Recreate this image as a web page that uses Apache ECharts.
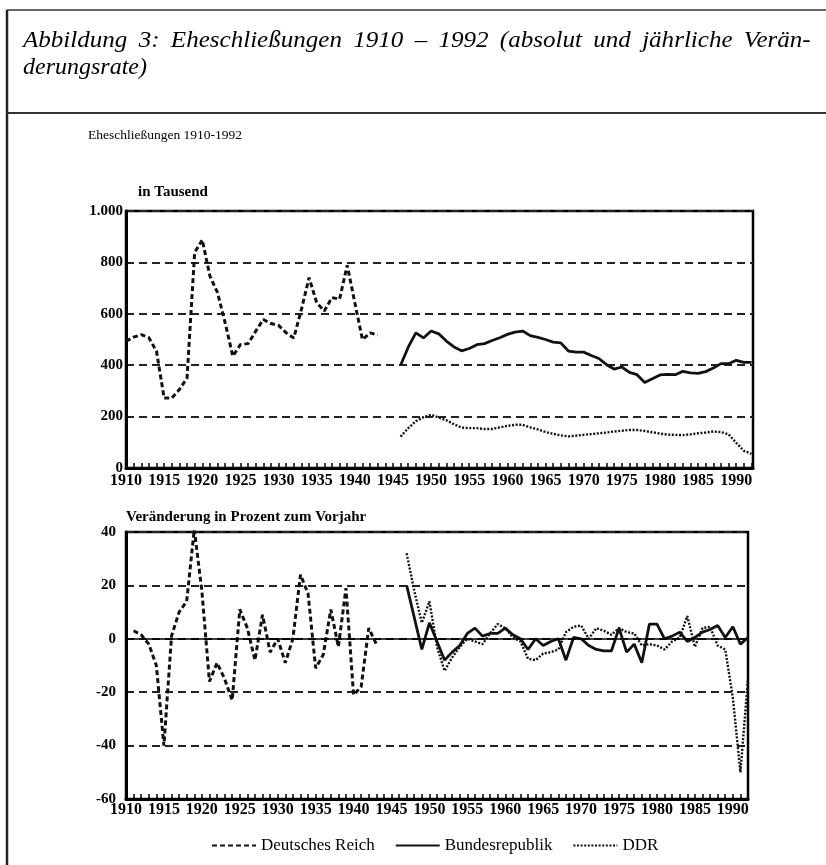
<!DOCTYPE html>
<html><head><meta charset="utf-8">
<script src="https://cdn.jsdelivr.net/npm/echarts@6/dist/echarts.min.js"></script>
<style>html,body{margin:0;padding:0;background:#fff}#c{width:826px;height:865px}</style>
</head><body><div id="c"></div>
<script>
// ---- data ----
const seriesNames = ['Deutsches Reich', 'Bundesrepublik', 'DDR'];
const xTickLabels = [1910, 1915, 1920, 1925, 1930, 1935, 1940, 1945, 1950, 1955, 1960, 1965, 1970, 1975, 1980, 1985, 1990];

// Eheschließungen in Tausend
const yearsReich = [1910,1911,1912,1913,1914,1915,1916,1917,1918,1919,1920,1921,1922,1923,1924,1925,1926,1927,1928,1929,1930,1931,1932,1933,1934,1935,1936,1937,1938,1939,1940,1941,1942,1943];
const marriagesReich = [493,509,519,507,454,272,272,305,350,838,888,747,682,565,435,480,484,532,578,562,555,526,506,617,741,643,611,663,657,789,643,500,526,517];

const yearsPost = [1946,1947,1948,1949,1950,1951,1952,1953,1954,1955,1956,1957,1958,1959,1960,1961,1962,1963,1964,1965,1966,1967,1968,1969,1970,1971,1972,1973,1974,1975,1976,1977,1978,1979,1980,1981,1982,1983,1984,1985,1986,1987,1988,1989,1990,1991,1992];
const marriagesBRD = [400,470,526,506,533,522,494,471,456,465,480,484,496,507,520,529,533,515,508,500,490,487,455,451,451,438,426,402,385,393,372,363,333,347,362,364,363,376,370,368,375,389,406,406,419,411,411];
const marriagesDDR = [122,155,182,198,207,196,186,170,157,155,155,152,152,158,164,168,168,158,150,140,133,127,123,126,129,132,135,138,142,145,148,148,144,139,134,130,129,128,131,135,138,142,140,131,98,67,55];

// Veränderung in Prozent zum Vorjahr
const yearsReichChg = [1911,1912,1913,1914,1915,1916,1917,1918,1919,1920,1921,1922,1923,1924,1925,1926,1927,1928,1929,1930,1931,1932,1933,1934,1935,1936,1937,1938,1939,1940,1941,1942,1943];
const changeReich = [3,1.5,-2,-10,-40,1,10,14,41,18,-16,-9,-15,-23,11,4,-8,9,-5,0,-9,0,24,17,-11,-6,11,-3,19,-21,-18,4,-2];

const yearsPostChg = [1947,1948,1949,1950,1951,1952,1953,1954,1955,1956,1957,1958,1959,1960,1961,1962,1963,1964,1965,1966,1967,1968,1969,1970,1971,1972,1973,1974,1975,1976,1977,1978,1979,1980,1981,1982,1983,1984,1985,1986,1987,1988,1989,1990,1991,1992];
const changeBRD = [20,8,-4,6,-1,-8,-5,-2.5,2,4,1,2,2,4,1.5,0,-4,0,-2.5,-1,0,-8,0.5,0,-2.5,-4,-4.5,-4.5,4,-5,-2,-9,5.5,5.5,0,1,2.5,-1,0.5,2.5,3.5,5,0.5,4.5,-2,0.5];
const changeDDR = [32,18,6,14,-3,-12,-7,-3,0,-1,-2,2,5.5,4,0.5,-1,-7.5,-8,-5.5,-5,-4,2.5,4.5,5,0,4,3,1.5,4,2.5,2,-2.5,-2,-2.5,-4,-1,0.5,8.5,-3,4,4.5,-2.5,-4,-22,-50,-15];

// ---- helpers ----
const pairs = (xs, ys) => xs.map((x, i) => [x, ys[i]]);
const SERIF = '"Liberation Serif", "Times New Roman", serif';
const INK = '#111';
const GAP = ' \u2009';

const styleReich = { color: INK, width: 3, type: [5, 3] };
const styleBRD = { color: INK, width: 2.8, type: 'solid' };
const styleDDR = { color: INK, width: 2.4, type: [2, 1.6] };

function xAxisCfg(grid, max, margin) {
  return {
    gridIndex: grid, type: 'value', min: 1910, max: max, interval: 5,
    axisLine: { show: true, onZero: false, lineStyle: { color: '#000', width: 3 } },
    axisTick: { show: true, inside: true, length: 5, lineStyle: { color: '#000', width: 1.5 } },
    minorTick: { show: true, splitNumber: 5, length: 5, lineStyle: { color: '#000', width: 1.5 } },
    axisLabel: {
      margin: margin, color: '#000', fontFamily: SERIF, fontSize: 16, fontWeight: 'bold',
      showMaxLabel: false,
      formatter: v => (xTickLabels.indexOf(Math.round(v * 1000) / 1000) >= 0 ? String(v) : '')
    },
    splitLine: { show: false }
  };
}
function yAxisCfg(grid, min, max, interval, margin, fmt) {
  return {
    gridIndex: grid, type: 'value', min: min, max: max, interval: interval,
    axisLine: { show: true, lineStyle: { color: '#000', width: 3 } },
    axisTick: { show: false },
    axisLabel: { margin: margin, color: '#000', fontFamily: SERIF, fontSize: 15, fontWeight: 'bold', formatter: fmt },
    splitLine: { show: true, lineStyle: { color: '#222', width: 1.8, type: [8, 5] } }
  };
}
function line(name, xi, data, ls, extra) {
  return Object.assign({
    name: name, type: 'line', xAxisIndex: xi, yAxisIndex: xi, data: data,
    symbol: 'none', showSymbol: false, lineStyle: ls, itemStyle: { color: INK },
    smooth: false, animation: false, z: 3
  }, extra || {});
}

const chart = echarts.init(document.getElementById('c'), null, { renderer: 'canvas' });
chart.setOption({
  backgroundColor: '#fff',
  animation: false,
  grid: [
    { left: 126, right: 73, top: 211, height: 257, show: true, borderColor: '#000', borderWidth: 2.5 },
    { left: 126, right: 78, top: 532, height: 267, show: true, borderColor: '#000', borderWidth: 2.5 }
  ],
  xAxis: [xAxisCfg(0, 1992.2, 5), xAxisCfg(1, 1992, 3)],
  yAxis: [
    yAxisCfg(0, 0, 1000, 200, 3, v => (v === 1000 ? '1.000' : String(v))),
    yAxisCfg(1, -60, 40, 20, 10, v => String(v))
  ],
  legend: {
    left: 206, top: 832, itemWidth: 44, itemHeight: 4, itemGap: 20,
    itemStyle: { opacity: 0 },
    textStyle: { fontFamily: SERIF, fontSize: 17, color: '#000' },
    data: seriesNames
  },
  series: [
    line(seriesNames[0], 0, pairs(yearsReich, marriagesReich), styleReich),
    line(seriesNames[1], 0, pairs(yearsPost, marriagesBRD), styleBRD),
    line(seriesNames[2], 0, pairs(yearsPost, marriagesDDR), styleDDR),
    line(seriesNames[0], 1, pairs(yearsReichChg, changeReich), styleReich, {
      markLine: {
        silent: true, symbol: ['none', 'none'], label: { show: false }, animation: false,
        lineStyle: { color: '#000', width: 1.6, type: 'solid' },
        data: [{ yAxis: 0 }]
      }
    }),
    line(seriesNames[1], 1, pairs(yearsPostChg, changeBRD), styleBRD),
    line(seriesNames[2], 1, pairs(yearsPostChg, changeDDR), styleDDR)
  ],
  graphic: [
    { type: 'line', shape: { x1: 7, y1: 10, x2: 826, y2: 10 }, style: { stroke: '#333', lineWidth: 1.5 } },
    { type: 'line', shape: { x1: 7, y1: 10, x2: 7, y2: 865 }, style: { stroke: '#222', lineWidth: 2.5 } },
    { type: 'line', shape: { x1: 7, y1: 113, x2: 826, y2: 113 }, style: { stroke: '#333', lineWidth: 2 } },
    { type: 'text', x: 23, y: 41, scaleX: 1.044,
      style: { text: ['Abbildung', '3:', 'Eheschließungen', '1910', '–', '1992', '(absolut', 'und', 'jährliche', 'Verän-'].join(GAP),
               font: 'italic 24px ' + SERIF, fill: '#000', align: 'left', verticalAlign: 'middle' } },
    { type: 'text', x: 23, y: 68, scaleX: 1.0,
      style: { text: 'derungsrate)', font: 'italic 24px ' + SERIF, fill: '#000', align: 'left', verticalAlign: 'middle' } },
    { type: 'text', x: 88, y: 135,
      style: { text: 'Eheschließungen 1910-1992', font: '13.5px ' + SERIF, fill: '#000', align: 'left', verticalAlign: 'middle' } },
    { type: 'text', x: 138, y: 192,
      style: { text: 'in Tausend', font: 'bold 15px ' + SERIF, fill: '#000', align: 'left', verticalAlign: 'middle' } },
    { type: 'text', x: 126, y: 517,
      style: { text: 'Veränderung in Prozent zum Vorjahr', font: 'bold 15px ' + SERIF, fill: '#000', align: 'left', verticalAlign: 'middle' } }
  ]
});
</script>
</body></html>
